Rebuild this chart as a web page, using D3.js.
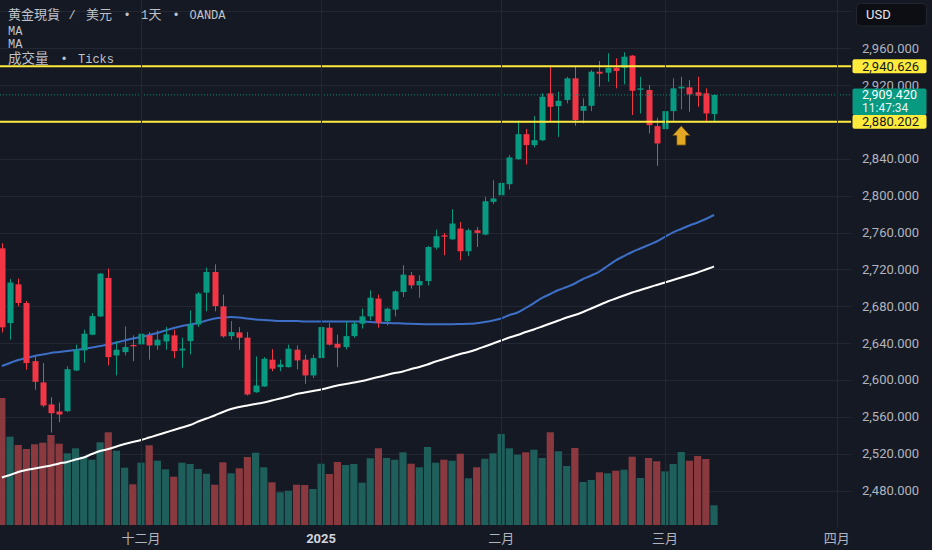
<!DOCTYPE html>
<html><head><meta charset="utf-8">
<script src="https://cdn.jsdelivr.net/npm/d3@7"></script>
<style>html,body{margin:0;padding:0;background:#151924;overflow:hidden}</style>
</head><body><svg id="c" width="932" height="550"></svg>
<script>
// ---- data (daily XAU/USD, OANDA) ----
const opens  = [2742.9,2661.7,2703.8,2683.5,2620.4,2597.3,2573.4,2565.8,2566.1,2610.3,2632.1,2649.1,2669.0,2710.7,2626.6,2630.2,2638.0,2638.6,2648.4,2637.5,2641.8,2648.4,2632.0,2642.2,2660.3,2694.8,2717.2,2679.9,2647.6,2651.6,2645.9,2586.7,2592.9,2622.0,2613.9,2613.9,2632.8,2622.0,2604.9,2623.7,2656.7,2639.3,2635.7,2647.6,2661.1,2669.0,2688.3,2663.6,2676.3,2695.4,2713.6,2702.7,2707.4,2743.7,2757.0,2752.7,2764.3,2739.7,2762.5,2757.8,2793.3,2800.5,2812.5,2839.7,2866.8,2854.9,2860.3,2911.1,2897.3,2903.8,2927.4,2892.2,2897.6,2934.6,2933.5,2938.9,2938.9,2952.0,2915.0,2914.7,2875.5,2872.3,2891.8,2916.5,2917.6,2912.2,2911.1,2888.6];
const highs  = [2748.4,2709.5,2710.0,2685.7,2625.5,2618.3,2581.3,2575.5,2614.7,2638.3,2654.6,2672.6,2716.1,2720.9,2642.2,2658.1,2648.4,2665.8,2652.0,2653.8,2657.4,2654.6,2645.9,2675.5,2695.4,2722.0,2725.5,2692.6,2663.9,2657.4,2652.0,2625.5,2624.8,2633.5,2622.0,2638.3,2637.5,2627.4,2627.4,2658.1,2661.7,2649.1,2663.9,2663.9,2677.4,2697.3,2692.6,2678.5,2697.3,2724.5,2717.2,2713.6,2745.4,2763.3,2759.6,2785.3,2771.5,2764.3,2766.1,2798.7,2816.8,2830.2,2844.0,2881.3,2872.3,2886.4,2911.1,2941.8,2912.8,2929.1,2940.0,2905.7,2936.4,2946.2,2954.6,2949.1,2955.7,2952.7,2929.1,2920.1,2884.6,2894.8,2927.4,2929.1,2925.5,2929.1,2916.5,2910.0];
const lows   = [2651.6,2643.7,2679.9,2611.1,2589.3,2570.4,2542.9,2554.1,2565.0,2609.5,2618.7,2648.5,2668.3,2615.8,2604.9,2626.6,2620.4,2633.2,2622.0,2632.8,2632.8,2623.7,2613.3,2627.7,2657.4,2674.5,2674.5,2645.9,2643.7,2632.8,2583.1,2586.0,2592.5,2609.5,2609.5,2613.5,2611.4,2595.9,2602.0,2621.2,2637.5,2613.9,2633.2,2645.9,2655.7,2664.7,2656.7,2659.2,2669.0,2690.0,2699.1,2689.3,2702.7,2741.5,2735.3,2752.0,2729.9,2734.6,2744.3,2757.0,2790.8,2771.5,2806.7,2839.0,2833.9,2852.4,2859.2,2881.0,2863.9,2900.2,2875.9,2878.5,2891.8,2918.3,2923.7,2916.5,2920.9,2887.5,2889.3,2867.6,2832.4,2859.2,2881.0,2893.7,2891.1,2896.5,2880.2,2880.2];
const closes = [2657.1,2705.7,2683.5,2618.3,2598.0,2572.3,2563.9,2562.5,2611.7,2632.1,2650.2,2669.3,2715.4,2624.8,2632.8,2635.7,2636.5,2650.2,2637.5,2643.7,2649.5,2631.3,2634.0,2660.0,2693.7,2717.2,2680.2,2647.3,2652.0,2645.9,2584.2,2594.0,2623.0,2612.2,2616.8,2633.9,2621.2,2604.9,2623.7,2657.4,2638.3,2635.0,2647.6,2661.1,2669.0,2689.3,2662.2,2677.4,2696.2,2714.3,2702.7,2707.4,2744.3,2756.0,2755.5,2769.8,2739.7,2762.5,2759.6,2794.0,2797.0,2813.9,2841.5,2866.8,2854.9,2860.3,2907.4,2896.5,2903.0,2927.4,2882.1,2897.3,2934.6,2932.4,2938.9,2935.3,2950.9,2913.9,2916.5,2876.6,2856.7,2891.8,2916.5,2918.3,2910.0,2908.5,2889.3,2909.42];
// volume, thousands of ticks
const volumes = [127,88.3,80,76,80.7,82.3,90,81.3,71.7,76.7,68.3,65.3,82.7,92.7,74.3,57.3,40.7,62.3,79.7,64.3,55.7,48.3,62.3,61,56,51.3,40.3,62.7,51.7,56.7,68,72.3,57.7,42.7,32.7,34.3,40.3,40,36,61.3,51,63,60,61,42.3,66.7,76.7,67,65.3,72.7,61.3,57.7,78,62.3,65.3,64.3,71.3,46.7,57.7,66.3,71.7,91,76.7,70.3,72.7,75.3,67,92.7,73.7,59,77,43,45,52.7,51.7,54.3,55.3,68.3,47,67,63.7,53.7,61,73,64.3,69,66,19.7];
// moving averages (blue, white)
const maBlue = [2615.1,2618.4,2621.7,2623.8,2626.0,2627.6,2629.3,2630.3,2631.4,2632.5,2633.6,2635.2,2636.8,2638.5,2640.6,2642.8,2645.0,2646.6,2648.8,2651.0,2653.7,2656.4,2658.6,2660.2,2661.8,2664.5,2666.7,2667.8,2668.3,2667.8,2666.7,2665.6,2665.1,2664.5,2664.0,2664.0,2664.0,2663.4,2663.4,2663.4,2663.4,2663.4,2663.4,2663.4,2663.4,2662.9,2662.4,2661.8,2661.5,2661.3,2660.9,2660.7,2660.5,2660.4,2660.4,2660.5,2660.7,2660.9,2661.6,2662.9,2664.5,2666.7,2670.5,2673.2,2678.1,2683.5,2689.0,2693.3,2697.6,2700.9,2704.7,2709.6,2713.4,2717.7,2723.7,2729.7,2734.5,2738.9,2742.7,2746.5,2750.3,2755.2,2760.3,2763.9,2767.7,2770.9,2774.7,2779.1];
const maWhite = [2494.1,2496.8,2500.1,2502.3,2503.9,2505.5,2507.1,2509.3,2510.9,2513.6,2515.8,2519.6,2522.9,2525.0,2527.8,2530.5,2532.6,2534.8,2537.5,2540.2,2543.0,2545.7,2548.4,2551.1,2554.9,2558.2,2561.4,2565.2,2568.5,2570.6,2572.3,2573.9,2575.5,2577.7,2579.9,2582.0,2584.8,2586.4,2588.0,2589.6,2591.8,2594.0,2595.6,2597.2,2598.9,2601.0,2603.2,2605.4,2607.5,2609.2,2611.9,2614.1,2616.8,2620.0,2622.7,2625.5,2628.2,2630.3,2633.1,2636.3,2639.6,2642.8,2646.1,2648.8,2652.0,2654.8,2658.0,2661.3,2664.5,2667.8,2670.5,2673.8,2677.6,2681.4,2685.2,2688.4,2691.7,2694.9,2697.6,2700.4,2703.1,2705.8,2708.5,2711.2,2713.9,2716.6,2719.9,2723.1];
// time axis ticks (bar index) and labels
const timeTickIdx = [17,39,61,81,102];
const timeTickLabels = ["十二月","2025","二月","三月","四月"];
// price grid ticks and visible price labels
const priceTicks = [2480,2520,2560,2600,2640,2680,2720,2760,2800,2840,2880,2920,2960,3000];
const priceLabels = [2480,2520,2560,2600,2640,2680,2720,2760,2800,2840,2920,2960];
// horizontal drawn levels
const levels = [2940.626, 2880.202];
const lastPrice = 2909.42;
const countdown = "11:47:34";
const arrowIdx = 83, arrowPrice = 2876;

// ---- drawing ----
const W=932,H=550, PR=851, PB=527;
const BG="#151924", UP="#089981", DN="#f23645", TXT="#b2b5be";
const AXF="Roboto, 'Liberation Sans', sans-serif";
const svg=d3.select("#c");
svg.append("rect").attr("width",W).attr("height",H).attr("fill",BG);

const x=d3.scaleLinear().domain([0,87]).range([1.84,714.02]);
const y=d3.scaleLinear().domain([2480,2960]).range([490.5,48.3]);
const yv=d3.scaleLinear().domain([0,100]).range([525,425]);

const defs=svg.append("defs");
defs.append("clipPath").attr("id","plot")
  .append("rect").attr("x",0).attr("y",0).attr("width",PR).attr("height",PB);
const g=svg.append("g").attr("clip-path","url(#plot)");

// grid
g.selectAll(".hg").data(priceTicks).join("line")
  .attr("x1",0).attr("x2",PR).attr("y1",d=>Math.round(y(d))+0.5).attr("y2",d=>Math.round(y(d))+0.5)
  .attr("stroke","#232734").attr("stroke-width",1);
svg.selectAll(".vg").data(timeTickIdx).join("line")
  .attr("x1",d=>Math.round(x(d))+0.5).attr("x2",d=>Math.round(x(d))+0.5).attr("y1",0).attr("y2",PB)
  .attr("stroke","#232734").attr("stroke-width",1);

// volume
g.selectAll(".vol").data(volumes).join("rect")
  .attr("x",(d,i)=>x(i)-3.6).attr("width",7.2)
  .attr("y",d=>yv(d)).attr("height",d=>yv(0)-yv(d))
  .attr("fill",(d,i)=>closes[i]>=opens[i]?"#1e5f5b":"#8a3a3f");

// moving averages
const line=d3.line().x((d,i)=>x(i)).y(d=>y(d)).curve(d3.curveMonotoneX);
g.append("path").attr("d",line(maWhite)).attr("fill","none").attr("stroke","#ffffff").attr("stroke-width",2);
g.append("path").attr("d",line(maBlue)).attr("fill","none").attr("stroke","#3d6fc6").attr("stroke-width",2);

// candles
const cg=g.selectAll(".cd").data(d3.range(opens.length)).join("g");
cg.append("line")
  .attr("x1",i=>Math.round(x(i))+0.5).attr("x2",i=>Math.round(x(i))+0.5)
  .attr("y1",i=>y(highs[i])).attr("y2",i=>y(lows[i]))
  .attr("stroke",i=>closes[i]>=opens[i]?UP:DN).attr("stroke-width",1);
cg.append("rect")
  .attr("x",i=>Math.round(x(i))-2.5).attr("width",6)
  .attr("y",i=>y(Math.max(opens[i],closes[i])))
  .attr("height",i=>Math.max(1,Math.abs(y(opens[i])-y(closes[i]))))
  .attr("fill",i=>closes[i]>=opens[i]?UP:DN);

// current price dotted line
g.append("line").attr("x1",0).attr("x2",PR).attr("y1",y(lastPrice)).attr("y2",y(lastPrice))
  .attr("stroke",UP).attr("stroke-width",1).attr("stroke-dasharray","1,2").attr("opacity",0.9);

// horizontal levels
g.selectAll(".lv").data(levels).join("line")
  .attr("x1",0).attr("x2",PR).attr("y1",d=>y(d)).attr("y2",d=>y(d))
  .attr("stroke","#ffeb3b").attr("stroke-width",2);

// arrow
const ax=x(arrowIdx), ay=y(arrowPrice);
svg.append("path")
  .attr("d",`M${ax},${ay} L${ax+9},${ay+10} L${ax+4.6},${ay+10} L${ax+4.6},${ay+19.5} L${ax-4.6},${ay+19.5} L${ax-4.6},${ay+10} L${ax-9},${ay+10} Z`)
  .attr("fill","#e2a824").attr("stroke","#3b2e10").attr("stroke-width",0.8);

// price axis labels
const fmt=d3.format(",.3f");
svg.selectAll(".pl").data(priceLabels).join("text")
  .attr("x",862).attr("y",d=>y(d)+4.4)
  .attr("font-family",AXF).attr("font-size",13)
  .attr("fill",TXT).text(d=>fmt(d));

// level labels
levels.forEach(v=>{
  const yy=y(v);
  svg.append("rect").attr("x",852.5).attr("y",yy-7).attr("width",74).attr("height",14).attr("rx",2).attr("fill","#ffeb3b");
  svg.append("text").attr("x",862).attr("y",yy+4.4)
    .attr("font-family",AXF).attr("font-size",13)
    .attr("fill","#131722").text(fmt(v));
});
// last price label with countdown
{
  const yy=y(lastPrice);
  svg.append("rect").attr("x",852.5).attr("y",yy-6.5).attr("width",74).attr("height",26.7).attr("rx",2).attr("fill",UP);
  svg.append("text").attr("x",862).attr("y",yy+4.4)
    .attr("font-family",AXF).attr("font-size",12.5)
    .attr("fill","#ffffff").text(fmt(lastPrice));
  svg.append("text").attr("x",862).attr("y",yy+16.8)
    .attr("font-family",AXF).attr("font-size",12)
    .attr("fill","#e6f4f1").text(countdown);
}

// currency button
svg.append("rect").attr("x",856.5).attr("y",3.5).attr("width",70).attr("height",22.5).attr("rx",4)
  .attr("fill","#0c0e13").attr("stroke","#23262f");
svg.append("text").attr("x",866).attr("y",19.3)
  .attr("font-family",AXF).attr("font-size",13)
  .attr("fill","#e8e9ec").text("USD");

// time axis labels
svg.selectAll(".tl").data(timeTickIdx).join("text")
  .attr("x",d=>x(d)).attr("y",542.5).attr("text-anchor","middle")
  .attr("font-family","Roboto, 'Noto Sans CJK SC', sans-serif").attr("font-size",13)
  .attr("font-weight",(d,i)=>timeTickLabels[i]==="2025"?"bold":"normal")
  .attr("fill",(d,i)=>timeTickLabels[i]==="2025"?"#d1d4dc":TXT)
  .text((d,i)=>timeTickLabels[i]);

// legend
const LF="'Liberation Mono', 'Noto Sans CJK TC', monospace";
const legendRows=[
  {yb:19.3, parts:[["黄金現貨",8,13],["/",68.5,12],["美元",86,13],["•",123.5,12],["1",141,12],["天",148.5,13],["•",172.5,12],["OANDA",189.5,12]]},
  {yb:34.7, parts:[["MA",8,12]]},
  {yb:48.3, parts:[["MA",8,12]]},
  {yb:62.5, parts:[["成交量",8,13.5],["•",60.5,12],["Ticks",78,12]]}
];
legendRows.forEach(r=>r.parts.forEach(p=>{
  svg.append("text").attr("x",p[1]).attr("y",r.yb).attr("font-family",LF).attr("font-size",p[2])
    .attr("fill","#bfc2ca").text(p[0]);
}));
</script></body></html>
